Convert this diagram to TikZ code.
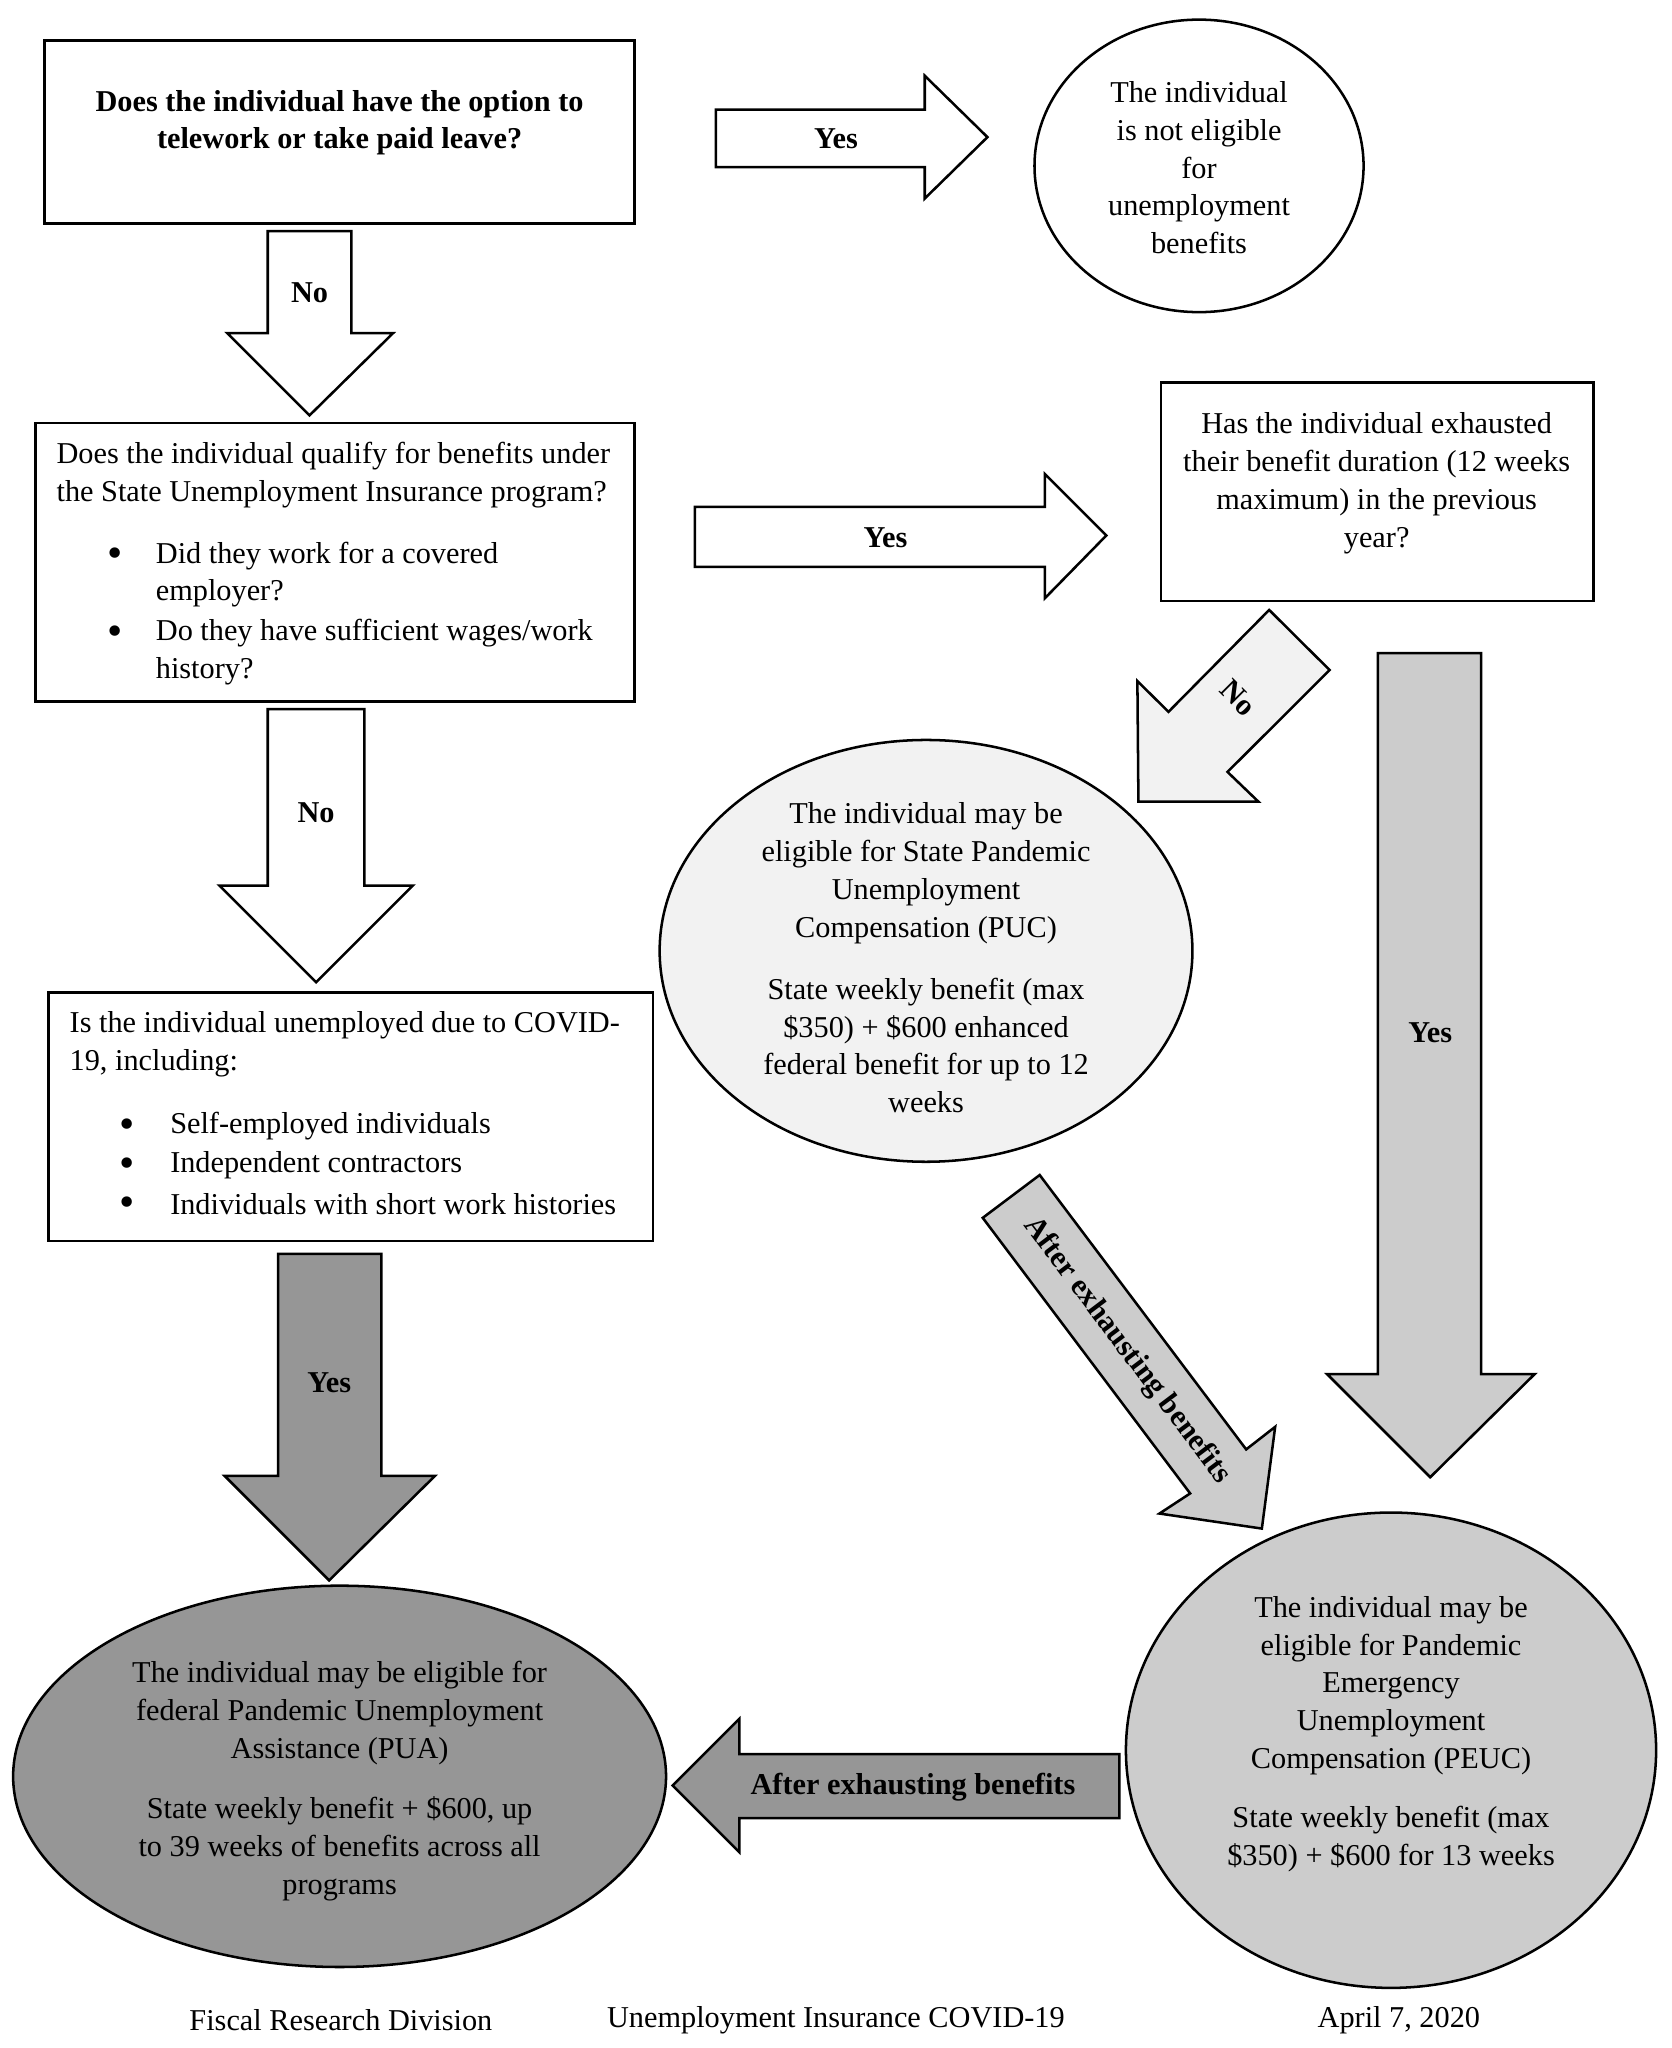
\documentclass[tikz,border=0pt]{standalone}
\usepackage{fontspec}
\setmainfont{Liberation Serif}
\usetikzlibrary{shapes.geometric}
\definecolor{lightfill}{HTML}{F2F2F2}
\definecolor{midfill}{HTML}{CCCCCC}
\definecolor{darkfill}{HTML}{969696}
\tikzset{
  box/.style={draw, line width=1.1pt, fill=white, inner sep=0pt},
  oval/.style={ellipse, draw, line width=1.1pt, inner sep=0pt},
  blk/.style={draw, line width=1.1pt, line join=miter},
  txt/.style={font=\fontsize{13.2}{16.44}\selectfont, inner sep=0pt, yshift=-0.04cm},
  lbl/.style={font=\bfseries\fontsize{13.2}{16.44}\selectfont, inner sep=0pt, yshift=-0.03cm},
  bul/.style={font=\fontsize{19}{19}\selectfont, inner sep=0pt, yshift=-0.04cm},
}
\begin{document}
\begin{tikzpicture}[x=0.02cm, y=-0.02cm]
\useasboundingbox (0,0) rectangle (1280,1568);
\fill[white] (0,0) rectangle (1280,1568);

% ---------- boxes and ellipses ----------
\node[box, minimum width=9.04cm, minimum height=2.8cm] (q1) at (260,101) {};
\node[oval, fill=white, minimum width=5.04cm, minimum height=4.48cm] (e1) at (918,127) {};
\node[box, minimum width=9.18cm, minimum height=4.26cm] (q2) at (256.5,430.5) {};
\node[box, minimum width=6.62cm, minimum height=3.34cm] (q3) at (1054.5,376.5) {};
\node[oval, fill=lightfill, minimum width=8.16cm, minimum height=6.46cm] (puc) at (709,728) {};
\node[box, minimum width=9.26cm, minimum height=3.8cm] (q4) at (268.5,855) {};
\node[oval, fill=darkfill, minimum width=10cm, minimum height=5.84cm] (pua) at (260,1360) {};
\node[oval, fill=midfill, minimum width=8.12cm, minimum height=7.28cm] (peuc) at (1065,1340) {};

% ---------- block arrows ----------
\draw[blk, fill=white] (548,84) -- (708,84) -- (708,58) -- (756,105) -- (708,152) -- (708,128) -- (548,128) -- cycle;
\draw[blk, fill=white] (205,177) -- (269,177) -- (269,255) -- (301,255) -- (237,318) -- (174,255) -- (205,255) -- cycle;
\draw[blk, fill=white] (532,388) -- (800,388) -- (800,363) -- (847,410) -- (800,458) -- (800,434) -- (532,434) -- cycle;
\draw[blk, fill=white] (205,543) -- (279,543) -- (279,678) -- (316,678) -- (242,752) -- (168,678) -- (205,678) -- cycle;
\draw[blk, fill=lightfill] (971.7,467) -- (1018,513) -- (939.8,591) -- (963.5,613.8) -- (871.6,613.8) -- (870.8,521.4) -- (894.6,545) -- cycle;
\draw[blk, fill=midfill] (1055,500) -- (1134,500) -- (1134,1052) -- (1175,1052) -- (1095,1131) -- (1016,1052) -- (1055,1052) -- cycle;
\draw[blk, fill=darkfill] (213,960) -- (292,960) -- (292,1130) -- (333,1130) -- (252,1210) -- (172,1130) -- (213,1130) -- cycle;
\draw[blk, fill=midfill] (752.4,932.4) -- (796,899.6) -- (954.1,1109.7) -- (976.3,1092.4) -- (966.1,1170.3) -- (887.7,1158.8) -- (911.2,1143.4) -- cycle;
\draw[blk, fill=darkfill] (857,1343) -- (857,1392) -- (566,1392) -- (566,1418) -- (515,1367) -- (566,1316) -- (566,1343) -- cycle;

% ---------- arrow labels ----------
\node[lbl] (l1) at (640,105) {Yes};
\node[lbl] (l2) at (237,223) {No};
\node[lbl] (l3) at (678,410) {Yes};
\node[lbl] (l4) at (242,621) {No};
\node[lbl, rotate=-45] (l5) at (948,533) {No};
\node[lbl] (l6) at (1095,789) {Yes};
\node[lbl] (l7) at (252,1057) {Yes};
\node[lbl, rotate=-53] (l8) at (862.7,1032.4) {After exhausting benefits};
\node[lbl] (l9) at (699,1367) {After exhausting benefits};

% ---------- texts ----------
\node[lbl, align=center] (t1) at (260,92.5) {Does the individual have the option to\\telework or take paid leave?};
\node[txt, align=center] (t2) at (918,126.5) {The individual\\is not eligible\\for\\unemployment\\benefits};

\node[txt, align=left, anchor=west] (t3) at (43,361.5) {Does the individual qualify for benefits under\\the State Unemployment Insurance program?};
\node[bul] (b1) at (88,425) {\textbullet};
\node[txt, align=left, anchor=west] (t4) at (119,438) {Did they work for a covered\\employer?};
\node[bul] (b2) at (88,485) {\textbullet};
\node[txt, align=left, anchor=west] (t5) at (119,497.5) {Do they have sufficient wages/work\\history?};

\node[txt, align=center] (t6) at (1054,368) {Has the individual exhausted\\their benefit duration (12 weeks\\maximum) in the previous\\year?};

\node[txt, align=center] (t7) at (709,666.5) {The individual may be\\eligible for State Pandemic\\Unemployment\\Compensation (PUC)};
\node[txt, align=center] (t8) at (709,798.5) {State weekly benefit (max\\\$350) + \$600 enhanced\\federal benefit for up to 12\\weeks};

\node[txt, align=left, anchor=west] (t9) at (53,797.5) {Is the individual unemployed due to COVID-\\19, including:};
\node[bul] (b3) at (97,862) {\textbullet};
\node[txt, anchor=west] (t10) at (130,860) {Self-employed individuals};
\node[bul] (b4) at (97,892) {\textbullet};
\node[txt, anchor=west] (t11) at (130,890) {Independent contractors};
\node[bul] (b5) at (97,922) {\textbullet};
\node[txt, anchor=west] (t12) at (130,920) {Individuals with short work histories};

\node[txt, align=center] (t13) at (260,1309.5) {The individual may be eligible for\\federal Pandemic Unemployment\\Assistance (PUA)};
\node[txt, align=center] (t14) at (260,1413.5) {State weekly benefit + \$600, up\\to 39 weeks of benefits across all\\programs};

\node[txt, align=center] (t15) at (1065,1288.5) {The individual may be\\eligible for Pandemic\\Emergency\\Unemployment\\Compensation (PEUC)};
\node[txt, align=center] (t16) at (1065,1406) {State weekly benefit (max\\\$350) + \$600 for 13 weeks};

% ---------- footer ----------
\node[txt] (f1) at (261,1545) {Fiscal Research Division};
\node[txt] (f2) at (640,1545) {Unemployment Insurance COVID-19};
\node[txt] (f3) at (1071,1545) {April 7, 2020};
\end{tikzpicture}
\end{document}
